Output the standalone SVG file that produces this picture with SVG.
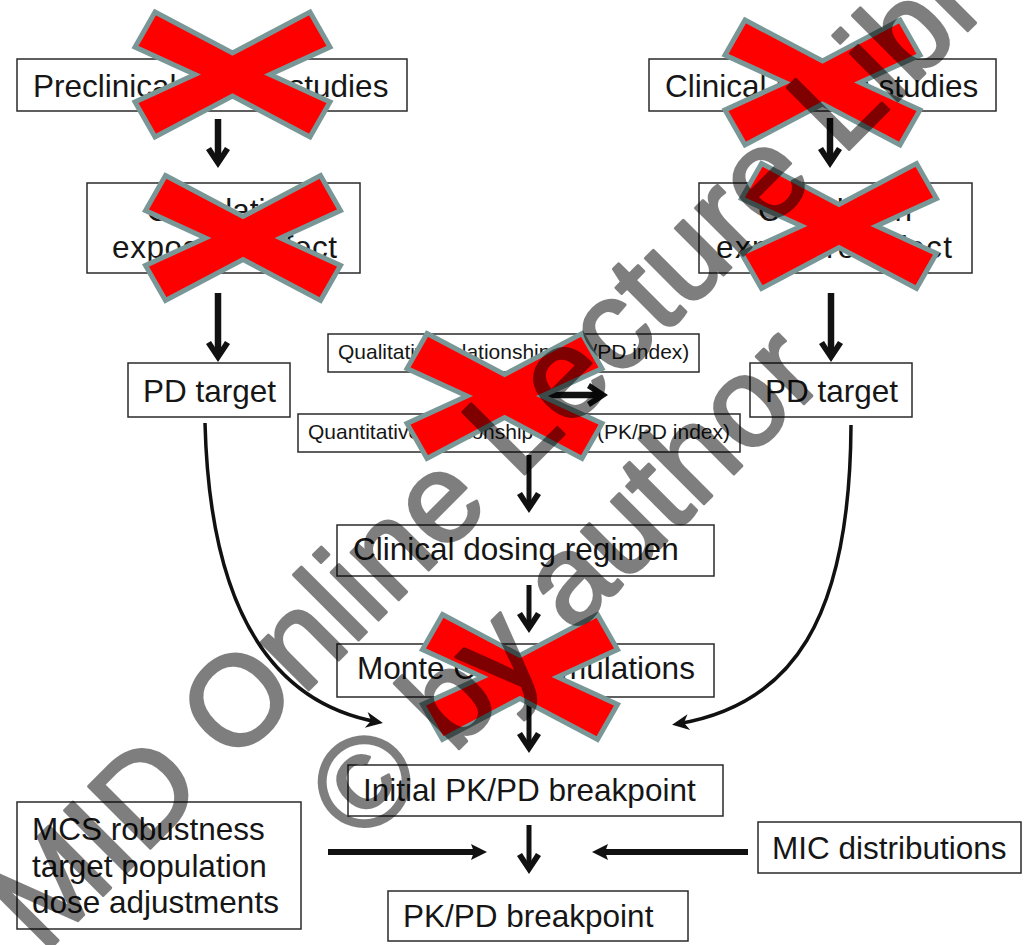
<svg xmlns="http://www.w3.org/2000/svg" xmlns:xlink="http://www.w3.org/1999/xlink" width="1027" height="945" viewBox="0 0 1027 945">
<style>
.box{fill:#fff;stroke:#2a2a2a;stroke-width:1.5}
.t{font-family:"Liberation Sans",Arial,sans-serif;font-size:31.5px;fill:#161616}
.ts{font-family:"Liberation Sans",Arial,sans-serif;font-size:21px;fill:#161616}
.ar{stroke:#111;stroke-width:6.5;fill:none;marker-end:url(#big)}
.arm{stroke:#111;stroke-width:5;fill:none;marker-end:url(#big)}
.arh{stroke:#111;stroke-width:6;fill:none;marker-end:url(#hs)}
.cv{stroke:#111;stroke-width:3.5;fill:none;marker-end:url(#cvh)}
.x{fill:#ff0000;stroke:#7a9797;stroke-width:5;stroke-linejoin:miter}
.wm{font-family:"Liberation Sans",Arial,sans-serif;font-size:127px;fill:#000;stroke:#000;stroke-width:3;stroke-linejoin:round}
</style>
<defs>
<marker id="big" markerUnits="userSpaceOnUse" orient="auto" refX="-8" refY="0" markerWidth="30" markerHeight="30" overflow="visible">
<polygon points="0,0 -18,-12 -21,-7 -10,0 -21,7 -18,12" fill="#111"/>
</marker>
<marker id="hs" markerUnits="userSpaceOnUse" orient="auto" refX="-9" refY="0" markerWidth="30" markerHeight="30" overflow="visible">
<polygon points="0,0 -16,-8 -13,0 -16,8" fill="#111"/>
</marker>
<marker id="cvh" markerUnits="userSpaceOnUse" orient="auto" refX="-5" refY="0" markerWidth="30" markerHeight="30" overflow="visible">
<polygon points="0,0 -17,-8 -12,0 -17,8" fill="#111"/>
</marker>
<path id="xm" class="x" d="M-77.5,-62.5 L0,-21.5 L77.5,-62.5 L97.5,-27.5 L37.5,0 L97.5,27.5 L77.5,62.5 L0,21.5 L-77.5,62.5 L-97.5,27.5 L-37.5,0 L-97.5,-27.5 Z"/>
</defs>
<rect width="1027" height="945" fill="#fff"/>

<g id="connectors">
<line class="ar" x1="218" y1="119" x2="218" y2="160"/>
<line class="ar" x1="218" y1="293" x2="218" y2="354"/>
<line class="ar" x1="830" y1="118" x2="830" y2="160"/>
<line class="ar" x1="831" y1="293" x2="831" y2="354"/>
<line class="ar" x1="540" y1="395" x2="600" y2="395"/>
<line class="arm" x1="529" y1="455" x2="529" y2="505"/>
<line class="arm" x1="529" y1="585" x2="529" y2="625"/>
<line class="arm" x1="529" y1="699" x2="529" y2="745"/>
<line class="arm" x1="529" y1="825" x2="529" y2="866"/>
<line class="arh" x1="328" y1="852" x2="478" y2="852"/>
<line class="arh" x1="748" y1="852" x2="601" y2="852"/>
<path class="cv" d="M205,423 C210,620 278,704 378,722"/>
<path class="cv" d="M851,425 C850,620 792,705 677,724"/>
</g>

<g id="preclinical">
<rect class="box" x="17" y="59" width="390" height="52"/>
<text class="t" x="33" y="97">Preclinical PK/PD studies</text>
</g>
<g id="correlation-left">
<rect class="box" x="87" y="183" width="273" height="90"/>
<text class="t" x="223.5" y="221" text-anchor="middle">Correlation</text>
<text class="t" x="224.5" y="258" text-anchor="middle" textLength="225" lengthAdjust="spacing">exposure-effect</text>
</g>
<g id="clinical">
<rect class="box" x="649" y="59" width="347" height="52"/>
<text class="t" x="665" y="97">Clinical PK/PD studies</text>
</g>
<g id="correlation-right">
<rect class="box" x="699" y="183" width="273" height="90"/>
<text class="t" x="835" y="221" text-anchor="middle">Correlation</text>
<text class="t" x="834" y="258" text-anchor="middle" textLength="236" lengthAdjust="spacing">exposure-effect</text>
</g>
<g id="pd-target-left">
<rect class="box" x="128" y="363" width="162" height="54"/>
<text class="t" x="143" y="402">PD target</text>
</g>
<g id="pd-target-right">
<rect class="box" x="750" y="363" width="162" height="54"/>
<text class="t" x="765" y="402">PD target</text>
</g>
<g id="qualitative">
<rect class="box" x="328" y="334" width="371" height="38"/>
<text class="ts" x="338" y="359">Qualitative relationship (PK/PD index)</text>
</g>
<g id="quantitative">
<rect class="box" x="298" y="414" width="442" height="38"/>
<text class="ts" x="308" y="439">Quantitative relationship</text>
<text class="ts" x="730" y="439" text-anchor="end">(PK/PD index)</text>
</g>
<g id="dosing">
<rect class="box" x="337" y="525" width="377" height="51"/>
<text class="t" x="353" y="560">Clinical dosing regimen</text>
</g>
<g id="monte-carlo">
<rect class="box" x="337" y="644" width="377" height="53"/>
<text class="t" x="357" y="679">Monte Carlo simulations</text>
</g>
<g id="initial-breakpoint">
<rect class="box" x="348" y="765" width="375" height="51"/>
<text class="t" x="363" y="801">Initial PK/PD breakpoint</text>
</g>
<g id="breakpoint">
<rect class="box" x="388" y="891" width="300" height="50"/>
<text class="t" x="403" y="927">PK/PD breakpoint</text>
</g>
<g id="mcs">
<rect class="box" x="17" y="802" width="284" height="127"/>
<text class="t" x="32" y="840">MCS robustness</text>
<text class="t" x="32" y="877">target population</text>
<text class="t" x="32" y="913">dose adjustments</text>
</g>
<g id="mic">
<rect class="box" x="758" y="822" width="263" height="51"/>
<text class="t" x="772" y="859">MIC distributions</text>
</g>

<g id="crosses">
<use xlink:href="#xm" transform="translate(232.5,74.5)"/>
<use xlink:href="#xm" transform="translate(243,238)"/>
<use xlink:href="#xm" transform="translate(822.5,82.5)"/>
<use xlink:href="#xm" transform="translate(839,226)"/>
<use xlink:href="#xm" transform="translate(504.5,396)"/>
<use xlink:href="#xm" transform="translate(520,677)"/>
</g>

<g id="watermark" transform="rotate(-45)" opacity="0.5">
<text class="wm" x="-645" y="706">MID Online Lecture Library</text>
<text class="wm" x="-342" y="854">© by author</text>
</g>
</svg>
